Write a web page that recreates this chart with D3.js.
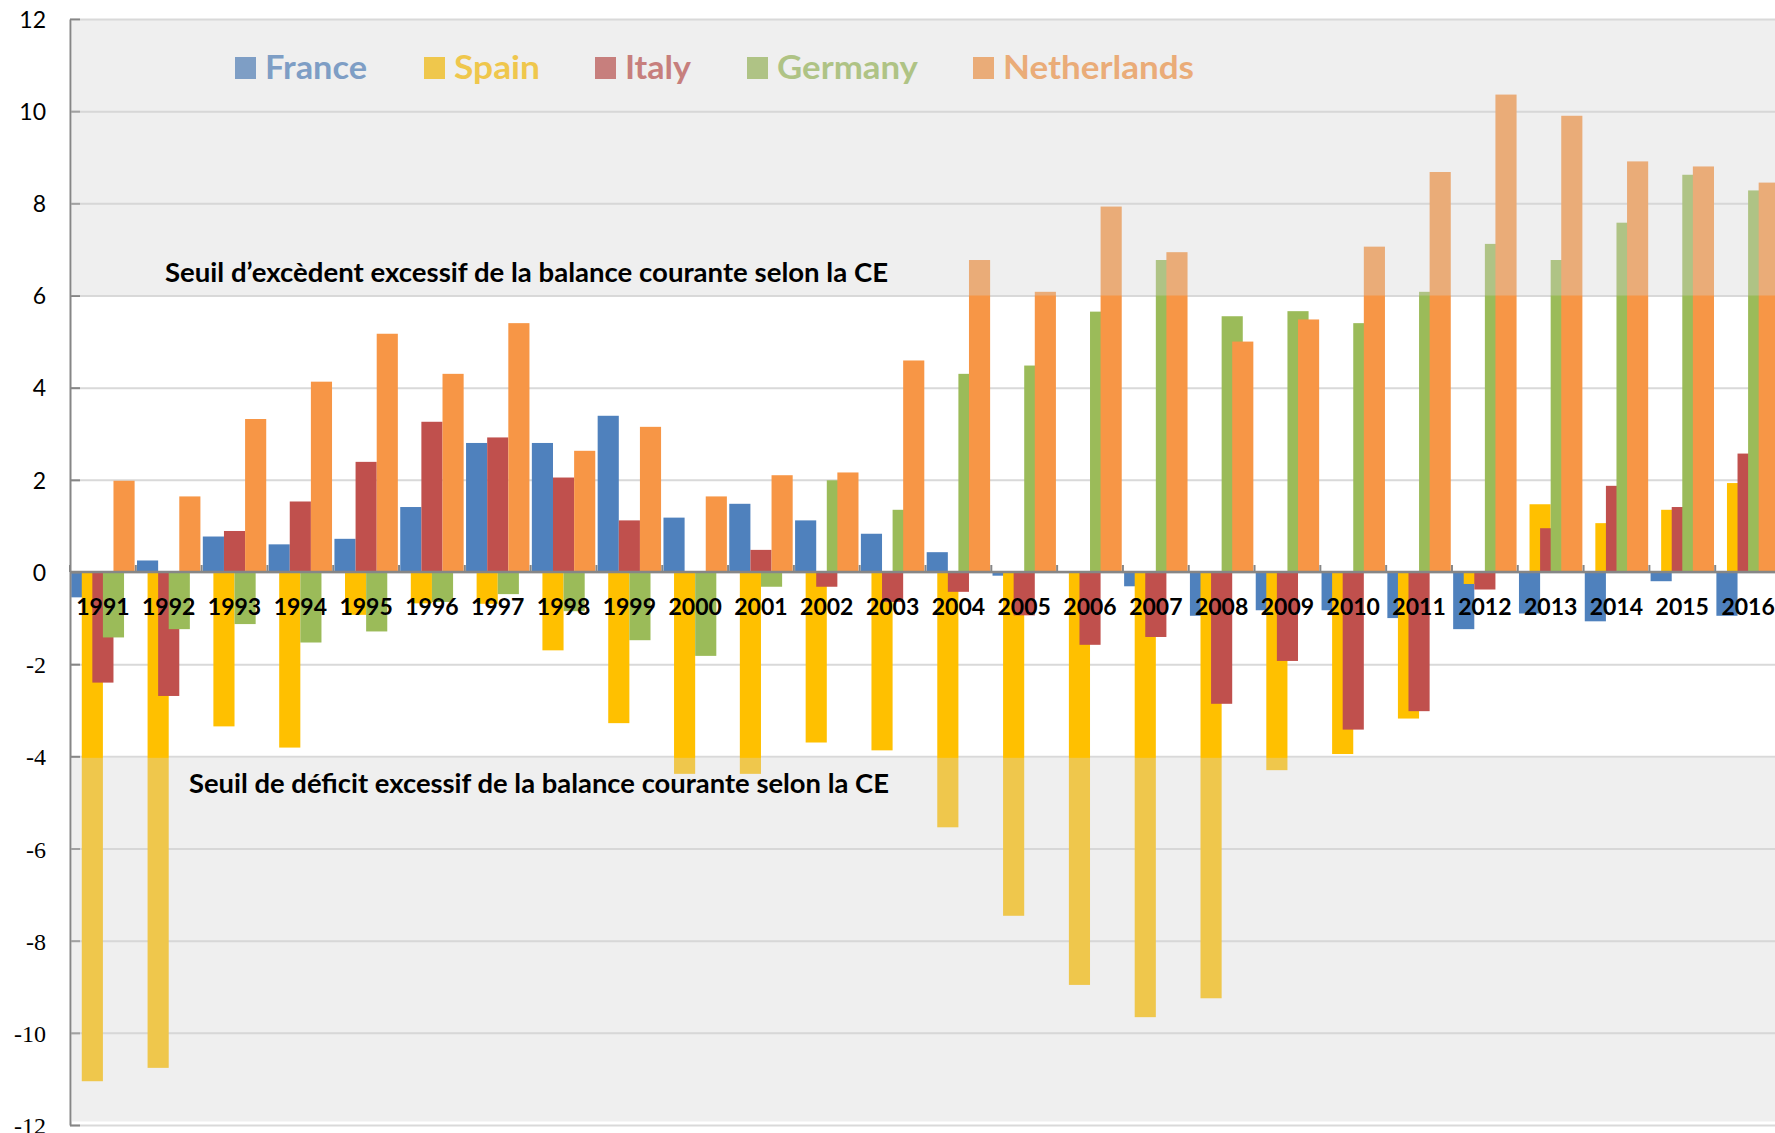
<!DOCTYPE html>
<html>
<head>
<meta charset="utf-8">
<script src="https://cdn.jsdelivr.net/npm/d3@7"></script>
<style>
  body { margin: 0; background: #fff; }
  svg { display: block; }
</style>
</head>
<body>
<div class="canvas"></div>
<script>
// data (current account balance, % of GDP)
const years = ["1991", "1992", "1993", "1994", "1995", "1996", "1997", "1998", "1999", "2000",
  "2001", "2002", "2003", "2004", "2005", "2006", "2007", "2008", "2009", "2010",
  "2011", "2012", "2013", "2014", "2015", "2016"];
const seriesNames = ["France", "Spain", "Italy", "Germany", "Netherlands"];
const seriesColors = ["#4F81BD", "#FFC000", "#C0504D", "#9BBB59", "#F79646"];

const france = [-0.55, 0.25, 0.77, 0.60, 0.72, 1.41, 2.80, 2.80, 3.39, 1.18, 1.48, 1.12, 0.83,
  0.43, -0.08, 0, -0.31, -0.95, -0.83, -0.83, -1.0, -1.24, -0.90, -1.07, -0.20, -0.95];
const spain = [-11.05, -10.76, -3.35, -3.81, -0.93, -0.68, -0.69, -1.70, -3.28, -4.38, -4.38, -3.70, -3.87,
  -5.54, -7.46, -8.96, -9.66, -9.25, -4.30, -3.95, -3.18, -0.26, 1.47, 1.06, 1.35, 1.93];
const italy = [-2.40, -2.69, 0.89, 1.53, 2.39, 3.26, 2.92, 2.05, 1.12, 0, 0.48, -0.32, -0.65,
  -0.43, -0.94, -1.58, -1.41, -2.86, -1.93, -3.42, -3.02, -0.38, 0.95, 1.87, 1.41, 2.57];
const germany = [-1.42, -1.24, -1.13, -1.53, -1.29, -0.65, -0.48, -0.85, -1.48, -1.82, -0.32, 1.99, 1.35,
  4.30, 4.48, 5.65, 6.77, 5.55, 5.66, 5.40, 6.08, 7.12, 6.77, 7.58, 8.62, 8.28];
const netherlands = [1.98, 1.64, 3.32, 4.13, 5.17, 4.30, 5.40, 2.63, 3.15, 1.64, 2.10, 2.16, 4.59,
  6.77, 6.08, 7.93, 6.94, 5.00, 5.48, 7.06, 8.68, 10.36, 9.90, 8.91, 8.80, 8.45];
const seriesValues = [france, spain, italy, germany, netherlands];

const yTicks = [-12, -10, -8, -6, -4, -2, 0, 2, 4, 6, 8, 10, 12];
const surplusThreshold = 6;
const deficitThreshold = -4;
const surplusNote = "Seuil d’excèdent excessif de la balance courante selon la CE";
const deficitNote = "Seuil de déficit excessif de la balance courante selon la CE";

// dimensions
const w = 1775;
const h = 1133;
const plot = { left: 70, right: 1781, top: 19, bottom: 1125 };

const svg = d3.select(".canvas").append("svg").attr("width", w).attr("height", h);

// scales
const x = d3.scaleBand().domain(years).range([plot.left, plot.right]);
const y = d3.scaleLinear().domain([-12, 12]).range([plot.bottom, plot.top]);
const barW = (x.bandwidth() - 2.4) / 3;            // bars overlap by half their width
const xs = d3.scalePoint().domain(seriesNames).range([1.2, x.bandwidth() - 1.2 - barW]);

// gridlines
svg.append("g")
  .attr("transform", `translate(${plot.left}, 0)`)
  .call(d3.axisLeft(y).tickValues(yTicks).tickSize(-(plot.right - plot.left)).tickFormat(""))
  .call(g => g.select(".domain").remove())
  .call(g => g.selectAll("line").attr("stroke", "#D9D9D9").attr("stroke-width", 2));

// bars, one layer per country (later ones drawn on top)
seriesNames.forEach((name, j) => {
  svg.append("g")
    .selectAll("rect")
    .data(years.map((yr, i) => ({ year: yr, v: seriesValues[j][i] })))
    .enter()
    .append("rect")
    .attr("x", d => x(d.year) + xs(name))
    .attr("width", barW)
    .attr("y", d => y(Math.max(0, d.v)))
    .attr("height", d => Math.abs(y(d.v) - y(0)))
    .attr("fill", seriesColors[j]);
});

// x axis at zero
svg.append("line")
  .attr("x1", plot.left).attr("x2", plot.right)
  .attr("y1", y(0)).attr("y2", y(0))
  .attr("stroke", "#868686").attr("stroke-width", 2.5);
svg.append("g")
  .selectAll("line")
  .data(years)
  .enter()
  .append("line")
  .attr("x1", d => x(d)).attr("x2", d => x(d))
  .attr("y1", y(0)).attr("y2", y(0) - 7)
  .attr("stroke", "#868686").attr("stroke-width", 2);

// year labels
svg.append("g")
  .selectAll("text")
  .data(years)
  .enter()
  .append("text")
  .attr("x", d => x(d) + x.bandwidth() / 2)
  .attr("y", 615)
  .attr("text-anchor", "middle")
  .style("font-family", "Lato, 'Open Sans', sans-serif")
  .style("font-weight", "bold")
  .style("font-size", "23px")
  .attr("fill", "#000")
  .text(d => d);

// y axis
const yAxis = svg.append("g")
  .attr("transform", `translate(${plot.left}, 0)`)
  .call(d3.axisLeft(y).tickValues(yTicks).tickSizeInner(-10).tickSizeOuter(0).tickPadding(24)
    .tickFormat(d => String(d)));
yAxis.select(".domain").attr("stroke", "#868686").attr("stroke-width", 2);
yAxis.selectAll(".tick line").attr("stroke", "#868686").attr("stroke-width", 2);
yAxis.selectAll(".tick text")
  .attr("fill", "#000")
  .attr("dy", "0.36em")
  .style("font-size", d => d < 0 ? "24px" : "23px")
  .style("font-family", d => d < 0 ? "'Liberation Serif', 'DejaVu Serif', serif" : "Lato, 'Open Sans', sans-serif");

// legend (sits inside the shaded band)
const legendX = [235, 424, 595, 747, 973];
const legendTextW = [102, 86, 66, 141, 191];
const legend = svg.append("g");
seriesNames.forEach((name, j) => {
  legend.append("rect")
    .attr("x", legendX[j]).attr("y", 57)
    .attr("width", 21).attr("height", 22)
    .attr("fill", seriesColors[j]);
  legend.append("text")
    .attr("x", legendX[j] + 30).attr("y", 79)
    .attr("textLength", legendTextW[j])
    .attr("lengthAdjust", "spacingAndGlyphs")
    .style("font-family", "Lato, 'Open Sans', sans-serif")
    .style("font-weight", "bold")
    .style("font-size", "32px")
    .attr("fill", seriesColors[j])
    .text(name);
});

// shaded "excessive" zones drawn over the bars
svg.append("rect")
  .attr("x", plot.left + 1).attr("width", plot.right - plot.left)
  .attr("y", y(12) + 1).attr("height", y(surplusThreshold) - y(12) - 1)
  .attr("fill", "#D4D4D4").attr("fill-opacity", 0.36);
svg.append("rect")
  .attr("x", plot.left + 1).attr("width", plot.right - plot.left)
  .attr("y", y(deficitThreshold) + 1.5).attr("height", y(-12) - y(deficitThreshold) - 5)
  .attr("fill", "#D4D4D4").attr("fill-opacity", 0.36);

// threshold notes
svg.append("text")
  .attr("x", 165).attr("y", 282)
  .attr("textLength", 723)
  .attr("lengthAdjust", "spacingAndGlyphs")
  .style("font-family", "Lato, 'Open Sans', sans-serif")
  .style("font-weight", "bold")
  .style("font-size", "26px")
  .attr("fill", "#000")
  .text(surplusNote);
svg.append("text")
  .attr("x", 189).attr("y", 793)
  .attr("textLength", 700)
  .attr("lengthAdjust", "spacingAndGlyphs")
  .style("font-family", "Lato, 'Open Sans', sans-serif")
  .style("font-weight", "bold")
  .style("font-size", "26px")
  .attr("fill", "#000")
  .text(deficitNote);
</script>
</body>
</html>
